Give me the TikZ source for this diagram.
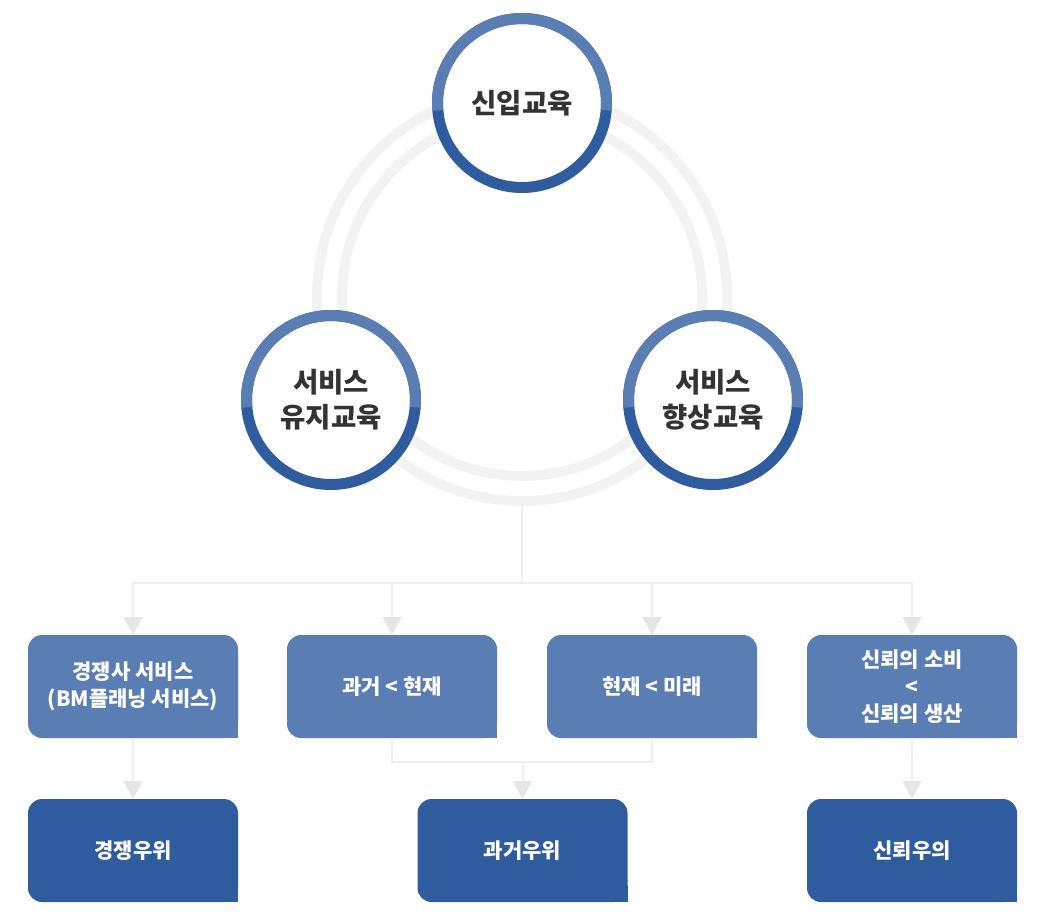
\documentclass[tikz,border=0pt]{standalone}
\usepackage{fontspec}
\setmainfont{Noto Sans CJK KR}
\usetikzlibrary{arrows.meta,positioning,calc}
\definecolor{sky}{HTML}{5A7DB4}
\definecolor{navy}{HTML}{2F5C9E}
\definecolor{halo}{HTML}{F3F3F3}
\definecolor{wire}{HTML}{EFEFEF}
\definecolor{tipgray}{HTML}{E6E6E6}
\definecolor{ink}{HTML}{333333}
\tikzset{
  course/.style={circle,fill=white,minimum size=180pt,inner sep=0pt,align=center,text=ink,
    font=\fontsize{27.5}{35}\selectfont\bfseries},
  card/.style={rounded corners=14pt,minimum width=210pt,minimum height=103pt,inner sep=0pt,
    outer sep=0pt,align=center,text=white,font=\fontsize{21}{27}\selectfont\bfseries},
  link/.style={draw=wire,line width=2pt},
  feed/.style={link,-{Triangle[length=18pt,width=19pt,color=tipgray]}}
}
\begin{document}
\begin{tikzpicture}[x=1pt,y=1pt]
  \useasboundingbox (0,0) rectangle (1043,-914);
  % grey halos behind the circles
  \foreach \r in {180,205}
    \draw[halo,line width=10pt] (522,-296) circle (\r pt);
  \coordinate (hub) at (522,-505);
  \node[course] (new)  at (522,-103) {신입교육};
  \node[course] (keep) at (331,-400) {서비스\\유지교육};
  \node[course] (grow) at (713,-400) {서비스\\향상교육};
  \foreach \c in {new,keep,grow} {
    \draw[navy,line width=11pt] (\c.center) circle (84.5pt);
    \draw[sky,line width=11pt] ($(\c.center)+(-5:84.5pt)$) arc (-5:185:84.5pt);
  }
  % first row of cards
  \foreach \n/\x/\t in {rival/133/{경쟁사 서비스\\(BM플래닝 서비스)},past/392/{과거 < 현재},
      now/652/{현재 < 미래},trust/912/{신뢰의 소비\\<\\신뢰의 생산}} {
    \node[card,fill=sky] (\n) at (\x,-686.5) {\t};
    \fill[sky] (\n.south east) rectangle ++(-16pt,16pt);
  }
  % second row
  \node[card,fill=navy,below=61pt of rival] (edge) {경쟁우위};
  \node[card,fill=navy] (lead) at (522.5,-850.5) {과거우위};
  \node[card,fill=navy,below=61pt of trust] (faith) {신뢰우의};
  \foreach \n in {edge,lead,faith}
    \fill[navy] (\n.south east) rectangle ++(-16pt,16pt);
  % connectors
  \coordinate (split) at (522,-583);
  \coordinate (join) at (522.5,-762);
  \draw[link] (hub) -- (split);
  \draw[link] (rival.north |- split) -- (trust.north |- split);
  \foreach \n in {rival,past,now,trust}
    \draw[feed] (\n.north |- split) -- (\n.north);
  \draw[feed] (rival.south) -- (edge.north);
  \draw[feed] (trust.south) -- (faith.north);
  \draw[link] (past.south) -- (past.south |- join) -- (now.south |- join) -- (now.south);
  \draw[feed] (join) -- (lead.north);
\end{tikzpicture}
\end{document}
